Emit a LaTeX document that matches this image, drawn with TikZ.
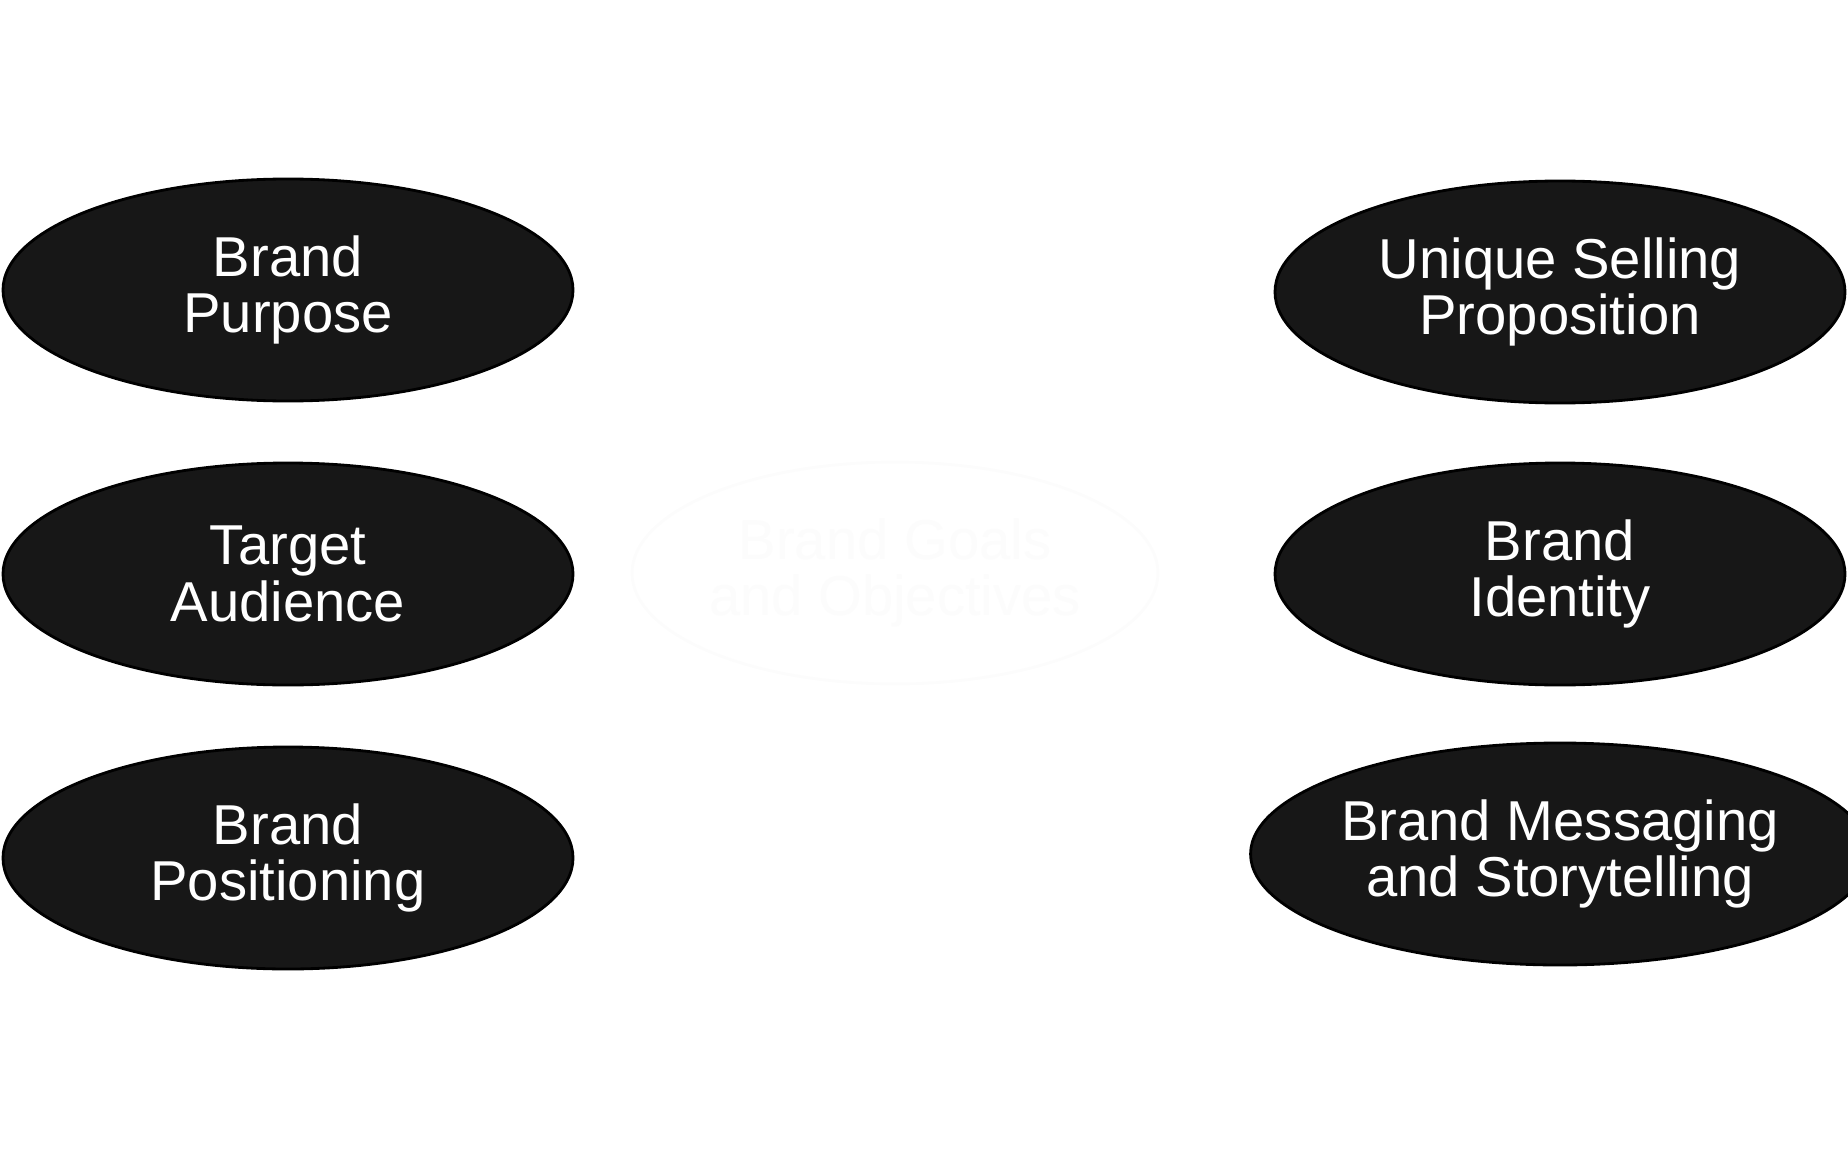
\documentclass[tikz,border=0pt]{standalone}
\usepackage{fontspec}
\setmainfont{Liberation Sans}
\usetikzlibrary{shapes.geometric}

\tikzset{
  topic/.style={ellipse, fill=black!91, draw=black, line width=0.8pt, text=white,
    minimum width=5.7cm, minimum height=2.22cm, align=center, inner sep=0pt,
    font=\fontsize{16}{16}\selectfont},
  hub/.style={topic, fill=white, draw=white!99!black, text=white!99!black,
    minimum width=4.9cm}
}

\begin{document}
\begin{tikzpicture}
  \useasboundingbox (0,0) rectangle (18.48,-11.49);

  \node[hub] (goals) at (8.95,-5.73) {Brand Goals\\and Objectives};

  \node[topic] (purpose) at (2.88,-2.90) {Brand\\Purpose};
  \node[topic] (audience) at (2.88,-5.74) {Target\\Audience};
  \node[topic] (positioning) at (2.88,-8.58) {Brand\\Positioning};

  \node[topic] (usp) at (15.60,-2.92) {Unique Selling\\Proposition};
  \node[topic] (identity) at (15.60,-5.74) {Brand\\Identity};
  \node[topic] (story) at (15.60,-8.54) {Brand Messaging\\and Storytelling};
\end{tikzpicture}
\end{document}
